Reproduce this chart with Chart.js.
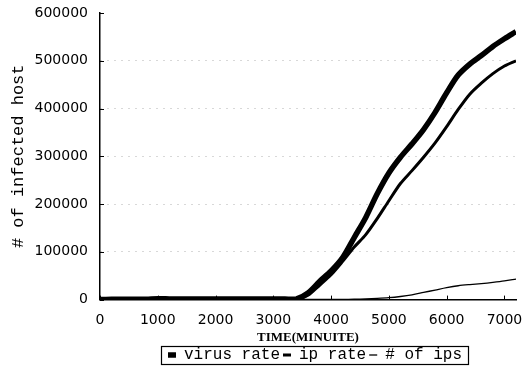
<!DOCTYPE html>
<html>
<head>
<meta charset="utf-8">
<script src="https://cdn.jsdelivr.net/npm/chart.js@4/dist/chart.umd.min.js"></script>
<style>
  html, body { margin: 0; padding: 0; background: #fff; }
  #wrap { width: 526px; height: 367px; }
</style>
</head>
<body>
<div id="wrap"><canvas id="chart"></canvas></div>
<script>
// minutes, sampled every 200
const minutes = [0, 200, 400, 600, 800, 1000, 1200, 1400, 1600, 1800, 2000, 2200, 2400, 2600, 2800, 3000, 3200, 3400,
  3600, 3800, 4000, 4200, 4400, 4600, 4800, 5000, 5200, 5400, 5600, 5800, 6000, 6200, 6400, 6600, 6800, 7000, 7200]

const virusRate = [0, 500, 800, 600, 900, 1800, 1500, 1200, 1400, 1300, 1200, 1300, 1200, 1300, 1200, 1300, 1200, 1500,
  14000, 38000, 60000, 88000, 130000, 172000, 222000, 265000, 298000, 326000, 356000, 392000, 433000, 470000, 493000,
  511000, 530000, 546000, 561000]

const ipRate = [0, 300, 500, 400, 600, 900, 800, 700, 700, 600, 600, 600, 600, 600, 600, 600, 600, 700,
  9000, 30000, 52000, 80000, 110000, 136000, 170000, 207000, 243000, 270000, 298000, 328000, 362000, 398000, 430000,
  453000, 473000, 489000, 500000]

const numIps = [0, 100, 200, 200, 200, 300, 300, 300, 300, 300, 300, 300, 300, 300, 300, 300, 300, 300,
  300, 300, 300, 300, 800, 1500, 2500, 4000, 6500, 10000, 15000, 20000, 25000, 29000, 31500,
  33500, 36000, 39000, 43000]

const seriesNames = ['virus rate', 'ip rate', '# of ips']
const xTicks = [0, 1000, 2000, 3000, 4000, 5000, 6000, 7000]
const yTicks = [0, 100000, 200000, 300000, 400000, 500000, 600000]

const toPoints = arr => arr.map((v, i) => ({ x: minutes[i], y: v }))

// short inward tick marks, legend moved under the plot and boxed
const extrasPlugin = {
  id: 'extras',
  afterLayout(chart) {
    const lg = chart.legend
    const ca = chart.chartArea
    if (!lg) return
    const dx = (ca.left + ca.right) / 2 + 7 - (lg.left + lg.right) / 2
    lg.left += dx
    lg.right += dx
  },
  afterDraw(chart) {
    const { ctx, chartArea, scales } = chart
    ctx.save()
    ctx.strokeStyle = '#000'
    ctx.lineWidth = 1
    ctx.beginPath()
    xTicks.forEach(t => {
      const x = Math.round(scales.x.getPixelForValue(t)) + 0.5
      ctx.moveTo(x, chartArea.bottom)
      ctx.lineTo(x, chartArea.bottom - 4)
    })
    yTicks.forEach(t => {
      const y = Math.round(scales.y.getPixelForValue(t)) + 0.5
      ctx.moveTo(chartArea.left, y)
      ctx.lineTo(chartArea.left + 4, y)
    })
    ctx.stroke()

    const lg = chart.legend
    if (lg && lg.legendHitBoxes.length) {
      const boxes = lg.legendHitBoxes
      const left = boxes[0].left - 7
      const last = boxes[boxes.length - 1]
      const right = last.left + last.width + 6
      const top = boxes[0].top - 1
      const bottom = boxes[0].top + boxes[0].height + 1
      ctx.lineWidth = 1.2
      ctx.strokeRect(Math.round(left) + 0.5, Math.round(top) + 0.5, Math.round(right - left), Math.round(bottom - top))
    }
    ctx.restore()
  }
}

new Chart(document.getElementById('chart'), {
  type: 'line',
  data: {
    datasets: [
      { label: seriesNames[0], data: toPoints(virusRate), borderColor: '#000', backgroundColor: '#000', borderWidth: 5.5, tension: 0.3 },
      { label: seriesNames[1], data: toPoints(ipRate), borderColor: '#000', backgroundColor: '#000', borderWidth: 3, tension: 0.3 },
      { label: seriesNames[2], data: toPoints(numIps), borderColor: '#000', backgroundColor: '#000', borderWidth: 1.3, tension: 0.3 }
    ]
  },
  options: {
    responsive: true,
    maintainAspectRatio: false,
    animation: false,
    elements: { point: { radius: 0 } },
    layout: { padding: { top: 0, right: 0, left: 8, bottom: -6 } },
    plugins: {
      tooltip: { enabled: false },
      legend: {
        position: 'bottom',
        labels: {
          color: '#000',
          font: { family: 'Liberation Mono', size: 16 },
          usePointStyle: true,
          pointStyle: 'line',
          pointStyleWidth: 8,
          boxHeight: 10,
          padding: 3
        }
      }
    },
    scales: {
      x: {
        type: 'linear',
        min: 0,
        max: 7200,
        afterBuildTicks: axis => { axis.ticks = xTicks.map(v => ({ value: v })) },
        afterFit: axis => { axis.paddingRight = 10; axis.paddingLeft = 0 },
        grid: { display: false, drawTicks: false },
        border: { color: '#000', width: 1.5 },
        ticks: { color: '#000', font: { family: 'DejaVu Sans', size: 14 }, padding: 12, maxRotation: 0, callback: v => String(v) },
        title: {
          display: true,
          text: 'TIME(MINUITE)',
          color: '#000',
          font: { family: 'Liberation Serif', size: 13, weight: 'bold' },
          padding: { top: -11, bottom: -1 }
        }
      },
      y: {
        min: 0,
        max: 600000,
        afterBuildTicks: axis => { axis.ticks = yTicks.map(v => ({ value: v })) },
        afterFit: axis => { axis.width = 92; axis.paddingTop = 13 },
        grid: {
          color: c => (c.tick && c.tick.value > 0 && c.tick.value < 600000 ? '#b0b0b0' : 'rgba(0,0,0,0)'),
          lineWidth: 1,
          drawTicks: false
        },
        border: { color: '#000', width: 1.5, dash: [1, 6] },
        ticks: { color: '#000', font: { family: 'DejaVu Sans', size: 14 }, padding: 12, callback: v => String(v) },
        title: {
          display: true,
          text: '# of infected host',
          color: '#000',
          font: { family: 'Liberation Mono', size: 17 },
          padding: { top: 0, bottom: 2 }
        }
      }
    }
  },
  plugins: [extrasPlugin]
})
</script>
</body>
</html>
